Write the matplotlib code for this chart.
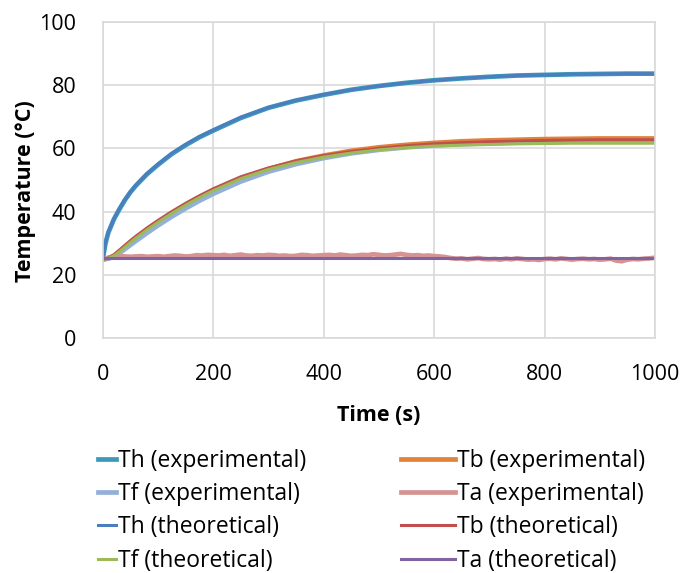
import matplotlib
matplotlib.use("Agg")
import matplotlib.pyplot as plt

plt.rcParams['font.family'] = ['Open Sans', 'DejaVu Sans']

# ── data ────────────────────────────────────────────────────
t = [0, 5, 10, 20, 30, 40, 50, 60, 80, 100, 125, 150, 175, 200, 250, 300,
     350, 400, 450, 500, 550, 600, 650, 700, 750, 800, 850, 900, 950, 1000]

th_exp = [25, 30, 33.3, 37.5, 40.7, 43.6, 46.1, 48.2, 51.8, 54.8, 58.2, 61.0,
          63.5, 65.6, 69.6, 72.8, 75.1, 76.9, 78.5, 79.7, 80.7, 81.5, 82.1,
          82.6, 83.0, 83.2, 83.4, 83.5, 83.6, 83.6]
th_theo = [25, 30.2, 33.5, 37.7, 40.9, 43.8, 46.3, 48.4, 52.0, 55.0, 58.4, 61.2,
           63.7, 65.8, 69.8, 72.9, 75.2, 77.0, 78.5, 79.7, 80.7, 81.5, 82.1,
           82.6, 83.0, 83.2, 83.4, 83.5, 83.6, 83.6]

tb_exp = [25, 25.0, 25.2, 26.0, 27.3, 28.7, 30.1, 31.5, 34.1, 36.5, 39.3, 41.9,
          44.3, 46.5, 50.4, 53.4, 55.9, 57.7, 59.2, 60.3, 61.1, 61.7, 62.2,
          62.5, 62.7, 62.9, 63.0, 63.1, 63.1, 63.1]
tb_theo = [25, 25.0, 25.3, 26.3, 27.8, 29.3, 30.8, 32.2, 34.8, 37.2, 40.0, 42.6,
           45.0, 47.2, 51.0, 53.8, 56.0, 57.7, 59.0, 60.0, 60.8, 61.4, 61.8,
           62.1, 62.3, 62.5, 62.6, 62.7, 62.7, 62.7]
tf_exp = [25, 25.0, 25.1, 25.7, 26.8, 28.1, 29.4, 30.7, 33.2, 35.6, 38.4, 41.0,
          43.4, 45.6, 49.5, 52.6, 55.0, 56.9, 58.4, 59.5, 60.3, 60.9, 61.3,
          61.6, 61.8, 62.0, 62.1, 62.2, 62.2, 62.2]
tf_theo = [25, 25.0, 25.2, 26.0, 27.3, 28.7, 30.2, 31.6, 34.2, 36.6, 39.4, 42.0,
           44.4, 46.6, 50.4, 53.3, 55.5, 57.2, 58.5, 59.5, 60.2, 60.7, 61.0,
           61.2, 61.4, 61.5, 61.6, 61.6, 61.6, 61.6]

ta_theo = [25.2] * len(t)

# ambient experimental, sampled every 10 s
t_ta = list(range(0, 1001, 10))
ta_exp = [25.0, 25.4, 25.8, 25.9, 25.8, 25.7, 25.8, 25.9, 25.7, 25.8, 25.9,
          25.7, 25.9, 26.1, 26.0, 25.8, 25.9, 26.2, 26.1, 26.3, 26.2,
          26.1, 26.3, 26.0, 26.2, 26.4, 26.1, 26.0, 26.2, 26.1, 26.3,
          26.2, 26.0, 26.1, 25.9, 26.0, 26.3, 26.2, 26.0, 26.1, 26.2,
          26.3, 26.1, 26.4, 26.2, 26.0, 26.1, 26.3, 26.2, 26.5, 26.3,
          26.1, 26.2, 26.4, 26.6, 26.3, 26.1, 26.2, 26.0, 26.1, 25.9,
          25.8, 25.6, 25.3, 25.1, 25.2, 24.9, 25.1, 25.3, 25.0, 24.9,
          25.0, 24.8, 25.1, 24.9, 25.2, 25.0, 24.8, 24.9, 24.7, 25.0,
          25.1, 24.9, 25.2, 25.0, 24.8, 25.0, 25.1, 24.9, 25.0, 24.8,
          24.9, 25.1, 24.5, 24.3, 24.8, 25.0, 24.9, 25.1, 25.2, 25.4]

# ── figure ─────────────────────────────────────────────────
fs = 15.5
leg_fs = 16.5
fig = plt.figure(figsize=(6.99, 5.73), dpi=100)
ax = fig.add_axes([0.147, 0.410, 0.790, 0.552])

exp_lw = 3.4
theo_lw = 2.2
l1, = ax.plot(t, th_exp, color='#3C9AB8', lw=exp_lw, label='Th (experimental)')
l2, = ax.plot(t, tb_exp, color='#E0823A', lw=exp_lw, label='Tb (experimental)')
l3, = ax.plot(t, tf_exp, color='#95B0D8', lw=exp_lw, label='Tf (experimental)')
l4, = ax.plot(t_ta, ta_exp, color='#D59392', lw=exp_lw, label='Ta (experimental)')
l5, = ax.plot(t, th_theo, color='#4A7EBF', lw=theo_lw, label='Th (theoretical)')
l6, = ax.plot(t, tb_theo, color='#C0504D', lw=theo_lw, label='Tb (theoretical)')
l7, = ax.plot(t, tf_theo, color='#9BBB59', lw=theo_lw, label='Tf (theoretical)')
l8, = ax.plot(t, ta_theo, color='#8064A2', lw=theo_lw, label='Ta (theoretical)')

ax.set_xlim(0, 1000)
ax.set_ylim(0, 100)
ax.set_xticks(range(0, 1001, 200))
ax.set_yticks(range(0, 101, 20))
ax.grid(True, color='#D9D9D9', lw=1.2)
ax.set_axisbelow(True)
for s in ax.spines.values():
    s.set_color('#D9D9D9')
    s.set_linewidth(1.2)
ax.tick_params(length=0, labelsize=fs)
ax.tick_params(axis='x', pad=19)
ax.tick_params(axis='y', pad=19)

ax.set_xlabel('Time (s)', fontsize=fs, fontweight='bold', va='center')
ax.set_ylabel('Temperature (°C)', fontsize=fs, fontweight='bold', va='center')
ax.xaxis.set_label_coords(0.5, -0.245)
ax.yaxis.set_label_coords(-0.139, 0.465)

# legend in two blocks, like the Excel layout
left = [l1, l3, l5, l7]
right = [l2, l4, l6, l8]
fig.legend(left, [h.get_label() for h in left],
           loc='upper left', bbox_to_anchor=(0.140, 0.217),
           frameon=False, fontsize=leg_fs, handlelength=0.8,
           handletextpad=0.1, labelspacing=0.41, borderaxespad=0, borderpad=0)
fig.legend(right, [h.get_label() for h in right],
           loc='upper left', bbox_to_anchor=(0.574, 0.217),
           frameon=False, fontsize=leg_fs, handlelength=2.35,
           handletextpad=0.1, labelspacing=0.41, borderaxespad=0, borderpad=0)

fig.savefig('out.png', dpi=100)
